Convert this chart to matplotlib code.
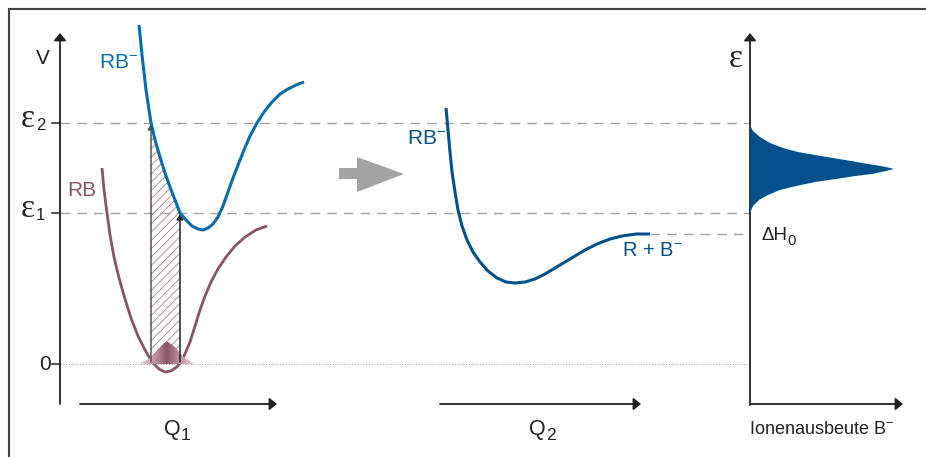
import numpy as np
import matplotlib.pyplot as plt
from matplotlib.patches import Polygon
from matplotlib.colors import LinearSegmentedColormap

plt.rcParams['font.family'] = ['Liberation Sans', 'DejaVu Sans']
plt.rcParams['mathtext.fontset'] = 'custom'
plt.rcParams['mathtext.rm'] = 'Liberation Sans'
plt.rcParams['mathtext.it'] = 'Liberation Sans:italic'
plt.rcParams['hatch.linewidth'] = 0.6

# energy levels (picture units, y grows downward)
level_e2 = 123
level_e1 = 213
level_dh0 = 234
level_zero = 364

# left panel: anion curve RB- and neutral curve RB along Q1
rbm_x = [139, 142, 146, 151, 155, 160, 165, 170, 175, 180, 186, 192, 198, 203, 208, 213, 218,
         223, 228, 233, 238, 244, 250, 257, 264, 272, 280, 288, 296, 304]
rbm_y = [25, 55, 90, 123, 140, 157, 173, 187, 200, 213, 220, 226, 229, 230, 228, 224, 217,
         206, 192, 178, 165, 150, 136, 123, 112, 102, 94, 89, 85, 82]

rb_x = [102, 104, 107, 110, 114, 119, 125, 131, 138, 145, 152, 159, 165, 171, 178, 184, 190,
        195, 200, 205, 211, 218, 226, 235, 245, 256, 267]
rb_y = [168, 190, 213, 235, 257, 278, 299, 318, 336, 350, 362, 369, 372, 371, 366, 356, 342,
        326, 310, 296, 282, 269, 257, 246, 237, 230, 226]

# vibrational wave packet on RB
packet_x = [139, 145, 150, 155, 160, 163, 166, 168, 171, 175, 180, 185, 190, 195]
packet_y = [364, 361, 358, 353, 347, 344, 342, 342, 344, 347, 353, 358, 361, 364]

# transitions
trans_x = [151, 180]
trans_top = [level_e2, level_e1]

# middle panel: RB- dissociating into R + B- along Q2
mid_x = [446, 448, 450, 452, 455, 458, 462, 467, 473, 480, 488, 497, 506, 515, 525, 535,
         545, 555, 565, 575, 585, 597, 610, 622, 636, 650]
mid_y = [108, 130, 152, 172, 192, 210, 226, 240, 252, 262, 271, 278, 282, 283, 282, 279,
         274, 268, 262, 256, 250, 244, 239, 236, 234, 234]

# right panel: ion yield B- versus energy
yield_top_y = [125, 131, 137, 143, 148, 152, 155, 158, 161, 164, 166, 168, 169]
yield_top_x = [750, 753, 760, 770, 783, 798, 815, 833, 851, 868, 881, 890, 894]
yield_bot_y = [169, 171, 174, 176, 179, 182, 186, 190, 195, 200, 206, 213]
yield_bot_x = [894, 886, 872, 855, 836, 815, 796, 780, 768, 759, 753, 750]

c_blue = '#0a6caa'
c_dblue = '#03508a'
c_mauve = '#875564'
c_grey = '#a5a5a5'
c_ax = '#222222'

fig = plt.figure(figsize=(9.26, 4.57), dpi=100)
ax = fig.add_axes([0, 0, 1, 1])
ax.set_xlim(0, 926)
ax.set_ylim(457, 0)
ax.axis('off')

# frame
ax.plot([9, 9, 926], [457, 9, 9], color='#444444', lw=1.5, solid_joinstyle='miter')

# reference lines
for y, x0 in [(level_e2, 60), (level_e1, 60), (level_dh0, 650)]:
    ax.plot([x0, 750], [y, y], color=c_grey, lw=1.0, dashes=(7, 5))
ax.plot([60, 750], [level_zero, level_zero], color=c_grey, lw=0.8, dashes=(1, 1.5))


def arrow_line(x0, y0, x1, y1, color=c_ax, lw=1.3, hw=9, hl=11):
    ax.annotate('', xy=(x1, y1), xytext=(x0, y0),
                arrowprops=dict(arrowstyle='-|>,head_width=%.2f,head_length=%.2f' % (hw / 25, hl / 25),
                                color=color, lw=lw, shrinkA=0, shrinkB=0))


# axes of the three panels
arrow_line(60, 404, 60, 33)
arrow_line(80, 404, 277, 404)
arrow_line(440, 404, 641, 404)
arrow_line(750, 405, 750, 33)
arrow_line(750, 404, 903, 404)
for y in [level_e2, level_e1, level_zero]:
    ax.plot([52, 60], [y, y], color=c_ax, lw=1.1)

# hatched transition region below the RB- curve
sel = [i for i, x in enumerate(rbm_x) if trans_x[0] <= x <= trans_x[1]]
hatch_pts = [(trans_x[0], level_zero - 2)] + [(rbm_x[i], rbm_y[i]) for i in sel] + [(trans_x[1], level_zero - 2)]
ax.add_patch(Polygon(hatch_pts, closed=True, facecolor='none', edgecolor=c_mauve,
                     hatch='////', lw=0, alpha=0.75))

# wave packet with horizontal gradient
cmap = LinearSegmentedColormap.from_list('pk', ['#ead6dc', '#c59aa7', '#8a5868', '#c59aa7', '#ead6dc'])
grad = np.linspace(0, 1, 200).reshape(1, -1)
im = ax.imshow(grad, cmap=cmap, extent=[packet_x[0], packet_x[-1], max(packet_y), min(packet_y)],
               aspect='auto', zorder=3)
pk = Polygon(list(zip(packet_x, packet_y)), closed=True, facecolor='none', edgecolor='none')
ax.add_patch(pk)
im.set_clip_path(pk)

# transition arrows
arrow_line(trans_x[0], level_zero - 2, trans_x[0], trans_top[0] + 1, color='#555555', lw=1.1, hw=5, hl=8)
arrow_line(trans_x[1], level_zero - 2, trans_x[1], trans_top[1] + 1, color='#222222', lw=1.1, hw=5, hl=8)

# potential curves
ax.plot(rb_x, rb_y, color=c_mauve, lw=2.0, solid_capstyle='butt', solid_joinstyle='round', zorder=2)
ax.plot(rbm_x, rbm_y, color=c_blue, lw=2.2, solid_capstyle='butt', solid_joinstyle='round', zorder=4)
ax.plot(mid_x, mid_y, color=c_dblue, lw=2.2, solid_capstyle='butt', solid_joinstyle='round', zorder=4)

# ion yield
ax.add_patch(Polygon(list(zip(yield_top_x + yield_bot_x, yield_top_y + yield_bot_y)),
                     closed=True, facecolor=c_dblue, edgecolor='none', zorder=4))

# grey transition arrow between panels
ax.add_patch(Polygon([(339, 168), (357, 168), (357, 157), (404, 174), (357, 192), (357, 179), (339, 179)],
                     closed=True, facecolor='#a3a3a6', edgecolor='none'))

# labels
fs = 15
eps = dict(fontsize=24, ha='left', va='center', color=c_ax, family='Liberation Serif')
ax.text(43, 59, 'V', fontsize=fs, ha='center', va='center', color=c_ax)
ax.text(99, 62, r'RB$^{\mathrm{-}}$', fontsize=fs, ha='left', va='center', color=c_blue)
ax.text(67, 190, 'RB', fontsize=fs, ha='left', va='center', color=c_mauve)
ax.text(21, 119, 'ε', **eps)
ax.text(36, 126, '2', fontsize=12, ha='left', va='center', color=c_ax)
ax.text(21, 209, 'ε', **eps)
ax.text(36, 216, '1', fontsize=12, ha='left', va='center', color=c_ax)
ax.text(45, 365, '0', fontsize=fs, ha='center', va='center', color=c_ax)
ax.text(164, 429, 'Q', fontsize=15.5, ha='left', va='center', color=c_ax)
ax.text(181, 436, '1', fontsize=12.5, ha='left', va='center', color=c_ax)
ax.text(529, 429, 'Q', fontsize=15.5, ha='left', va='center', color=c_ax)
ax.text(546, 436, '2', fontsize=12.5, ha='left', va='center', color=c_ax)
ax.text(407, 138, r'RB$^{\mathrm{-}}$', fontsize=fs, ha='left', va='center', color=c_dblue)
ax.text(622, 251, r'R + B$^{\mathrm{-}}$', fontsize=14.5, ha='left', va='center', color=c_dblue)
ax.text(729, 59, 'ε', **eps)
ax.text(762, 236, 'ΔH', fontsize=13.5, ha='left', va='center', color=c_ax)
ax.text(787, 241, '0', fontsize=11, ha='left', va='center', color=c_ax)
ax.text(822, 430, r'Ionenausbeute B$^{\mathrm{-}}$', fontsize=13, ha='center', va='center', color=c_ax)

fig.savefig('out.png', dpi=100)
